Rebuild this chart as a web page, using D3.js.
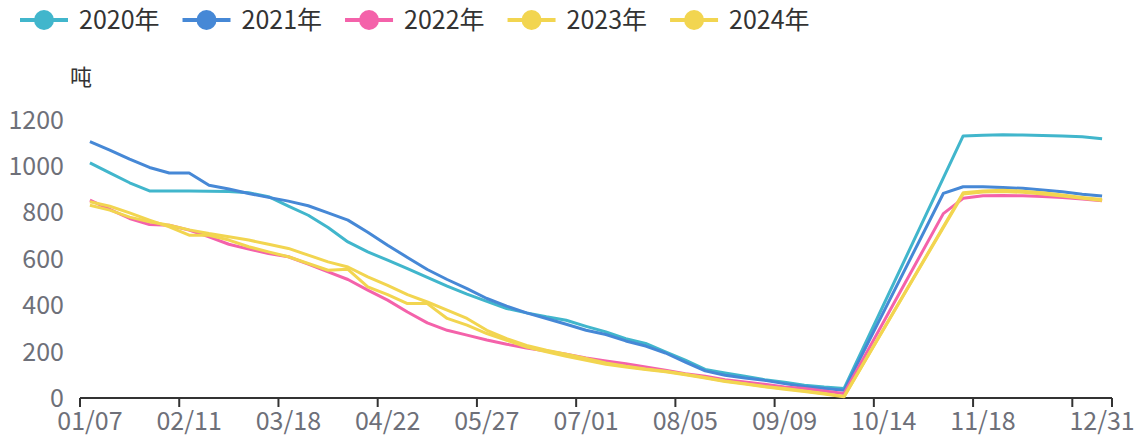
<!DOCTYPE html>
<html>
<head>
<meta charset="utf-8">
<script src="https://cdn.jsdelivr.net/npm/d3@7"></script>
<style>
  body { margin: 0; background: #fff; }
  svg text { font-family: "Microsoft YaHei", "Noto Sans CJK SC", "Noto Sans", sans-serif; }
</style>
</head>
<body>
<svg width="1137" height="439"></svg>
<script>
"use strict"

// weekly categories, 52 bands
let weeks = ["01/07","01/14","01/21","01/28","02/04","02/11","02/18","02/25","03/04","03/11",
  "03/18","03/25","04/01","04/08","04/15","04/22","04/29","05/06","05/13","05/20",
  "05/27","06/03","06/10","06/17","06/24","07/01","07/08","07/15","07/22","07/29",
  "08/05","08/12","08/19","08/26","09/02","09/09","09/16","09/23","09/30","10/07",
  "10/14","10/21","10/28","11/04","11/11","11/18","11/25","12/02","12/09","12/16",
  "12/23","12/31"]

let seriesNames = ["2020年", "2021年", "2022年", "2023年", "2024年"]
let colors = ["#41b6cc", "#4688d6", "#f462aa", "#f2d550", "#f2d550"]

let s2020 = [1014,971,928,893,893,893,892,890,885,868,827,788,735,673,630,594,558,520,482,448,
  417,386,367,350,335,309,285,256,235,199,163,123,108,94,79,68,55,47,41,null,
  null,null,null,null,1130,1133,1135,1134,1132,1130,1126,1118]
let s2021 = [1105,1069,1030,994,970,970,917,901,882,865,849,829,798,767,715,659,606,554,511,472,
  429,396,367,343,318,292,274,246,224,194,155,117,98,86,76,62,50,41,33,null,
  null,null,null,882,911,911,908,904,897,889,879,871]
let s2022 = [853,813,774,748,745,724,695,663,642,623,609,577,544,511,465,422,371,324,292,271,
  250,232,216,203,189,173,160,148,134,120,105,94,79,69,59,47,41,30,19,null,
  null,null,null,795,861,872,873,872,869,864,858,850]
let s2023 = [846,827,798,767,738,702,702,681,652,630,609,580,551,555,479,446,407,407,343,314,
  278,249,220,199,180,163,145,134,123,113,100,86,71,60,48,38,28,17,5,null,
  null,null,null,null,885,893,896,892,885,875,865,856]
let s2024 = [831,810,780,760,745,725,709,695,681,663,645,616,587,565,522,486,446,414,379,343,
  292,256,227,206,189,170,151,137,125,115,102,88,73,62,50,41,30,19,7,null,
  null,null,null,null,880,888,890,887,880,871,861,852]

let yTicks = [0, 200, 400, 600, 800, 1000, 1200]
let labelIdx = [0, 5, 10, 15, 20, 25, 30, 35, 40, 45, 51]
let tickIdx = [0, 5, 10, 15, 20, 25, 30, 35, 40, 45, 50, 52]

let svg = d3.select("svg")
let allSeries = [s2020, s2021, s2022, s2023, s2024]

let x = d3.scaleBand().domain(weeks).range([80, 1112]).padding(0)
let y = d3.scaleLinear().domain([0, 1200]).range([398, 119.7])

// y labels, no axis line
svg.append("g").selectAll("text")
  .data(yTicks)
  .enter().append("text")
    .attr("x", 64)
    .attr("y", d => y(d))
    .attr("dy", "0.36em")
    .attr("text-anchor", "end")
    .attr("fill", "#6e7079")
    .attr("font-size", 25)
    .text(d => d)

svg.append("text")
  .attr("x", 81).attr("y", 77).attr("dy", "0.35em")
  .attr("text-anchor", "middle")
  .attr("fill", "#333")
  .attr("font-size", 22)
  .text("吨")

// x axis: labels at band centres, ticks on band boundaries
let xAxis = d3.axisBottom(x)
  .tickValues(labelIdx.map(i => weeks[i]))
  .tickSize(0)
  .tickPadding(14)
let gx = svg.append("g").attr("transform", "translate(0,398)").call(xAxis)
gx.select(".domain").remove()
gx.selectAll("text").attr("fill", "#6e7079").attr("font-size", 25)
  .style("font-family", '"Microsoft YaHei", "Noto Sans CJK SC", sans-serif')

svg.append("line")
  .attr("x1", 80).attr("x2", 1112).attr("y1", 398).attr("y2", 398)
  .attr("stroke", "#333").attr("stroke-width", 2)
svg.append("g").selectAll("line")
  .data(tickIdx)
  .enter().append("line")
    .attr("x1", d => 80 + d * x.step()).attr("x2", d => 80 + d * x.step())
    .attr("y1", 398).attr("y2", 407)
    .attr("stroke", "#333").attr("stroke-width", 2)

// lines, gaps are joined straight across
let line = d3.line()
  .x(d => x(d.w) + x.bandwidth() / 2)
  .y(d => y(d.v))

allSeries.forEach((s, k) => {
  let pts = s.map((v, i) => ({w: weeks[i], v: v})).filter(d => d.v != null)
  svg.append("path")
    .datum(pts)
    .attr("fill", "none")
    .attr("stroke", colors[k])
    .attr("stroke-width", 3)
    .attr("stroke-linejoin", "round")
    .attr("d", line)
})

// legend
let lx = 20
seriesNames.forEach((name, k) => {
  let g = svg.append("g").attr("transform", "translate(" + lx + ",20)")
  g.append("line").attr("x1", 0).attr("x2", 48).attr("y1", 0).attr("y2", 0)
    .attr("stroke", colors[k]).attr("stroke-width", 4)
  g.append("circle").attr("cx", 24).attr("cy", 0).attr("r", 10).attr("fill", colors[k])
  let t = g.append("text").attr("x", 59).attr("dy", "0.36em")
    .attr("fill", "#333").attr("font-size", 25).text(name)
  lx += 59 + t.node().getComputedTextLength() + 23
})
</script>
</body>
</html>
